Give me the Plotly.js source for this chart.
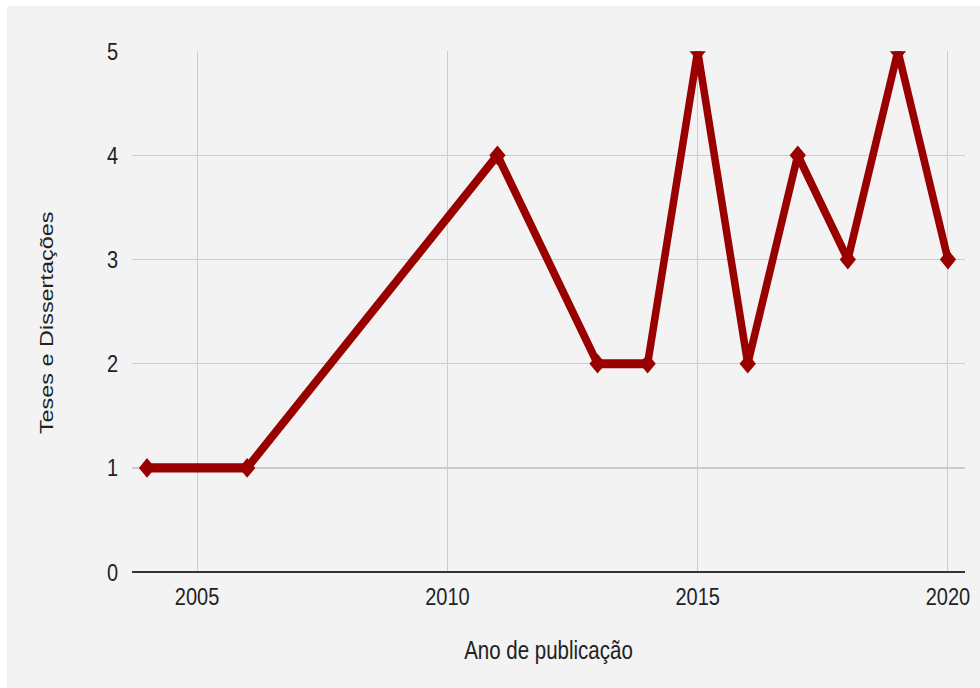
<!DOCTYPE html>
<html>
<head>
<meta charset="utf-8">
<script src="https://cdn.plot.ly/plotly-3.0.1.min.js"></script>
<style>
  html, body { margin: 0; padding: 0; background: #ffffff; overflow: hidden; }
  #chart { position: absolute; left: 7px; top: 6px; width: 973px; height: 559px;
           transform: scaleY(1.22); transform-origin: 0 0; }
</style>
</head>
<body>
<div id="chart"></div>
<script>
const years = [2004, 2006, 2011, 2013, 2014, 2015, 2016, 2017, 2018, 2019, 2020];
const counts = [1, 1, 4, 2, 2, 5, 2, 4, 3, 5, 3];
const xTicks = [2005, 2010, 2015, 2020];
const yTicks = [0, 1, 2, 3, 4, 5];
const xTitle = 'Ano de publicação';
const yTitle = 'Teses e Dissertações';

const trace = {
  x: years,
  y: counts,
  type: 'scatter',
  mode: 'lines+markers',
  line: { color: '#990000', width: 7.5 },
  marker: { symbol: 'diamond', size: 12.5, color: '#990000' },
  hoverinfo: 'x+y'
};

const fam = '"Liberation Sans", Arial, sans-serif';
const tickFont = { family: fam, size: 20, color: '#222222' };
const xTitleFont = { family: fam, size: 20.5, color: '#222222' };
const yTitleFont = { family: fam, size: 19.2, color: '#222222' };

const layout = {
  width: 973,
  height: 559,
  paper_bgcolor: '#f3f3f3',
  plot_bgcolor: '#f3f3f3',
  font: tickFont,
  showlegend: false,
  margin: { l: 125, r: 15, t: 37, b: 95 },
  xaxis: {
    range: [2003.7, 2020.34],
    tickvals: xTicks,
    ticktext: xTicks.map(String),
    showgrid: true,
    gridcolor: '#cccccc',
    gridwidth: 1,
    zeroline: false,
    showline: false,
    ticks: 'outside',
    ticklen: 2,
    tickcolor: 'rgba(0,0,0,0)',
    tickfont: tickFont,
    title: { text: xTitle, font: xTitleFont, standoff: 26 }
  },
  yaxis: {
    range: [0, 5],
    tickvals: yTicks,
    ticktext: yTicks.map(String),
    showgrid: true,
    gridcolor: '#cccccc',
    gridwidth: 1,
    zeroline: true,
    zerolinecolor: '#333333',
    zerolinewidth: 2,
    showline: false,
    ticks: 'outside',
    ticklen: 9,
    tickcolor: 'rgba(0,0,0,0)',
    tickfont: tickFont
  },
  annotations: [{
    text: yTitle,
    xref: 'paper', yref: 'paper',
    x: 0, y: 0.478,
    xanchor: 'center', yanchor: 'middle',
    xshift: -85,
    textangle: -90,
    showarrow: false,
    font: yTitleFont
  }]
};

Plotly.newPlot('chart', [trace], layout, { displayModeBar: false, staticPlot: true });
</script>
</body>
</html>
